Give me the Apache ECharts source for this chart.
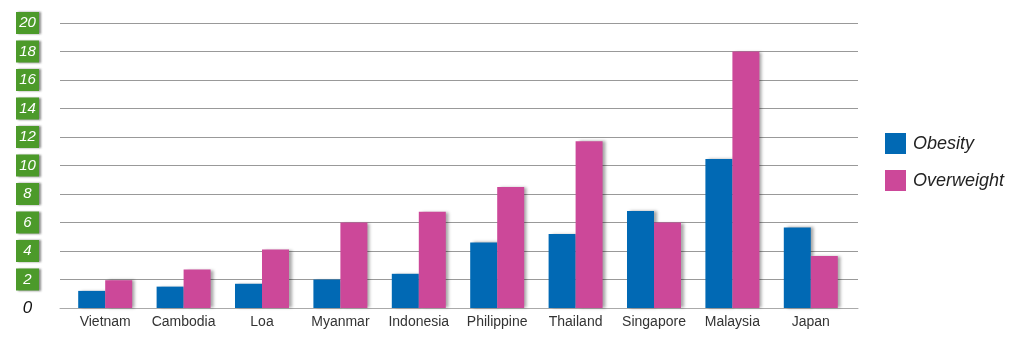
<!DOCTYPE html>
<html><head><meta charset="utf-8">
<script src="https://cdn.jsdelivr.net/npm/echarts@6/dist/echarts.min.js"></script>
<style>html,body{margin:0;padding:0;background:#fff}#c{width:1024px;height:337px}</style>
</head><body><div id="c"></div>
<script>
const categories = ['Vietnam','Cambodia','Loa','Myanmar','Indonesia','Philippine','Thailand','Singapore','Malaysia','Japan'];
const obesity = [1.2, 1.5, 1.7, 2.0, 2.4, 4.6, 5.2, 6.8, 10.45, 5.65];
const overweight = [1.95, 2.7, 4.1, 6.0, 6.75, 8.5, 11.7, 6.0, 18.0, 3.65];
const yTicks = {min:0, max:20, interval:2};
const seriesNames = ['Obesity','Overweight'];
const colors = ['#0169b4','#cc4899'];

const chart = echarts.init(document.getElementById('c'));
const shadow = {shadowColor:'rgba(0,0,0,0.35)', shadowBlur:3, shadowOffsetX:3, shadowOffsetY:0};
const font = 'Liberation Sans, Arial';
chart.setOption({
  animation:false,
  grid:[
    {left:60, right:166, top:23, bottom:29},
    {left:66, right:174, top:23, bottom:29}
  ],
  legend:{
    orient:'vertical', left:885, top:133, padding:0, itemWidth:21, itemHeight:21, itemGap:16,
    icon:'rect',
    textStyle:{fontFamily:font, fontStyle:'italic', fontSize:18, color:'#222', padding:[0,0,0,2]},
    data:seriesNames
  },
  xAxis:[
    {gridIndex:0, type:'category', data:categories,
     axisLine:{show:true, lineStyle:{color:'#aaa'}}, axisTick:{show:false}, axisLabel:{show:false}},
    {gridIndex:1, type:'category', data:categories,
     axisLine:{show:false}, axisTick:{show:false},
     axisLabel:{color:'#333', fontFamily:font, fontSize:14, margin:7, interval:0}}
  ],
  yAxis:[
    {gridIndex:0, type:'value', min:yTicks.min, max:yTicks.max, interval:yTicks.interval,
     axisLine:{show:false}, axisTick:{show:false},
     splitLine:{lineStyle:{color:'#999', width:1}},
     axisLabel:{
       margin:21, align:'right',
       formatter:function(v){ return v===0 ? '{z|0}' : '{g|'+v+'}'; },
       rich:{
         g:{backgroundColor:'#4c9a2a', color:'#fff', fontStyle:'italic', fontFamily:font, fontSize:15,
            width:23, height:22, lineHeight:22, align:'center',
            shadowColor:'rgba(0,0,0,0.45)', shadowBlur:2, shadowOffsetX:2},
         z:{color:'#111', fontStyle:'italic', fontFamily:font, fontSize:17, width:23, align:'center'}
       }
     }},
    {gridIndex:1, type:'value', min:yTicks.min, max:yTicks.max, interval:yTicks.interval, show:false}
  ],
  series:[
    {name:seriesNames[0], type:'bar', xAxisIndex:1, yAxisIndex:1, data:obesity, barWidth:27, barGap:'0%', itemStyle:Object.assign({color:colors[0]}, shadow)},
    {name:seriesNames[1], type:'bar', xAxisIndex:1, yAxisIndex:1, data:overweight, barWidth:27, barGap:'0%', itemStyle:Object.assign({color:colors[1]}, shadow)}
  ]
});
</script></body></html>
